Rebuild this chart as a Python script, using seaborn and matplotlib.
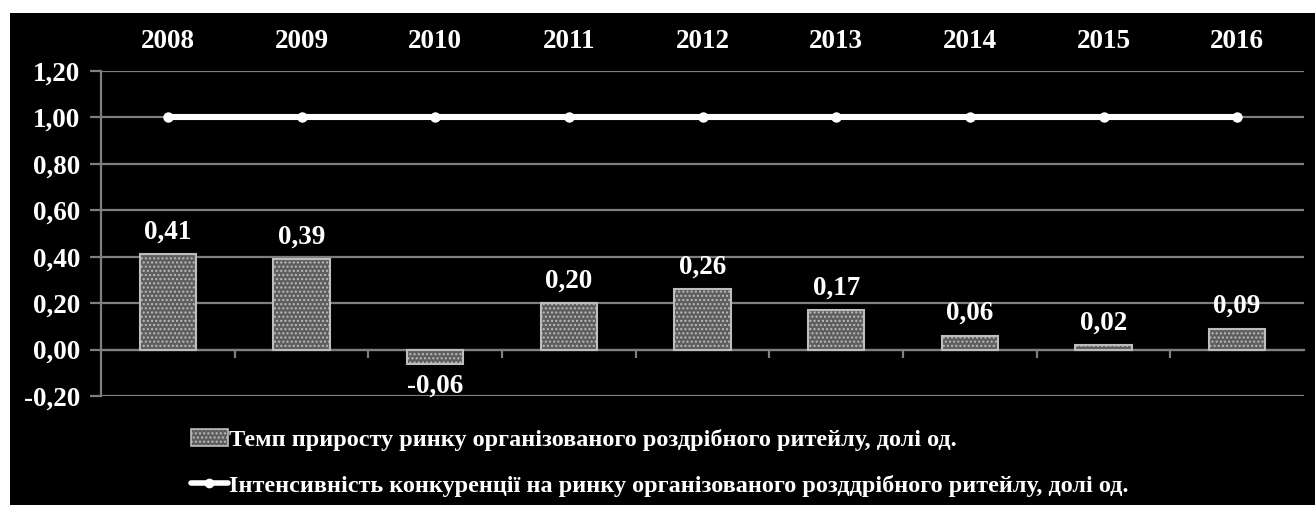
import matplotlib
matplotlib.use("Agg")
import matplotlib.pyplot as plt
import matplotlib.patches as mpatches
from matplotlib.lines import Line2D
import seaborn as sns
import numpy as np
import pandas as pd

years = ["2008", "2009", "2010", "2011", "2012", "2013", "2014", "2015", "2016"]
growth = [0.41, 0.39, -0.06, 0.20, 0.26, 0.17, 0.06, 0.02, 0.09]
intensity = [1.00, 1.00, 1.00, 1.00, 1.00, 1.00, 1.00, 1.00, 1.00]
yticks = [-0.20, 0.00, 0.20, 0.40, 0.60, 0.80, 1.00, 1.20]
label_bar = "Темп приросту ринку організованого роздрібного ритейлу, долі од."
label_line = "Інтенсивність конкуренції на ринку організованого розддрібного ритейлу, долі од."

sns.set_theme(style="dark")
plt.rcParams['font.family'] = ['Liberation Serif', 'DejaVu Serif']
plt.rcParams['font.weight'] = 'bold'
plt.rcParams['hatch.color'] = '#b0b0b0'
plt.rcParams['hatch.linewidth'] = 1.0

BAR_FACE = "#5e5e5e"

W, H = 1315, 505
fig = plt.figure(figsize=(W / 100, H / 100), dpi=100)
fig.patch.set_facecolor("white")
fig.patches.append(mpatches.Rectangle((10 / W, 0), 1 - 10 / W, 1 - 13 / H,
                                      transform=fig.transFigure, facecolor="black",
                                      edgecolor="none", zorder=-5))

ax = fig.add_axes([101 / W, 1 - 396 / H, (1304 - 101) / W, (396 - 71) / H])
ax.set_zorder(2)
ax.set_facecolor("black")

df = pd.DataFrame({"year": years, "growth": growth, "intensity": intensity})

sns.barplot(data=df, x="year", y="growth", ax=ax, width=0.42,
            color=BAR_FACE, saturation=1, zorder=3)
for p in ax.patches:
    p.set_hatch("....")
    p.set_edgecolor("#bdbdbd")
    p.set_linewidth(1.5)
    p.set_facecolor(BAR_FACE)

sns.pointplot(data=df, x="year", y="intensity", ax=ax, color="white",
              markers="o", markersize=7.5, markeredgewidth=0, linewidth=4.4,
              zorder=4)

labels = [f"{v:.2f}".replace(".", ",") for v in growth]
ax.bar_label(ax.containers[0], labels=labels, padding=7, color="white",
             fontsize=19.5, fontweight="bold")

ax.set_xlim(-0.5, 8.5)
ax.set_ylim(-0.20, 1.20)
ax.set_yticks(yticks)
ax.set_yticklabels([f"{v:.2f}".replace(".", ",") for v in yticks])
ax.set_xlabel("")
ax.set_ylabel("")

# grid
ax.grid(False)
for v in yticks:
    ax.axhline(v, color="#7f7f7f", lw=1.6, zorder=1)

# spines
for s in ["top", "right"]:
    ax.spines[s].set_visible(False)
ax.spines["left"].set_visible(True)
ax.spines["left"].set_color("#7f7f7f")
ax.spines["left"].set_linewidth(1.6)
ax.spines["bottom"].set_visible(True)
ax.spines["bottom"].set_position(("data", 0))
ax.spines["bottom"].set_color("#7f7f7f")
ax.spines["bottom"].set_linewidth(1.6)

ax.set_xticks(range(len(years)))
ax.set_xticklabels(years)
ax.set_xticks(np.arange(0.5, len(years) - 1, 1.0), minor=True)
ax.tick_params(axis="x", which="major", bottom=False, top=False,
               labelbottom=False, labeltop=True, pad=6, labelsize=19.5,
               labelcolor="white")
ax.tick_params(axis="x", which="minor", bottom=True, direction="out",
               length=6, width=1.6, color="#7f7f7f")
ax.tick_params(axis="y", left=True, direction="out", length=8, width=1.6,
               color="#7f7f7f", labelsize=19.5, labelcolor="white", pad=7)
for t in ax.get_xticklabels() + ax.get_yticklabels():
    t.set_fontweight("bold")

h1 = mpatches.Patch(facecolor=BAR_FACE, edgecolor="#bdbdbd", hatch="....", linewidth=1.2)
h2 = Line2D([], [], color="white", lw=4, marker="o", markersize=7, markeredgewidth=0)
leg = fig.legend([h1, h2], [label_bar, label_line], loc="upper left",
                 bbox_to_anchor=(179 / W, 1 - 417 / H), frameon=False,
                 prop={"family": "Liberation Serif", "weight": "bold", "size": 17.5},
                 labelcolor="white", handlelength=1.5, handletextpad=0.05,
                 labelspacing=0.98, handleheight=0.7, borderpad=0)

fig.savefig("out.png", dpi=100, facecolor=fig.get_facecolor())
